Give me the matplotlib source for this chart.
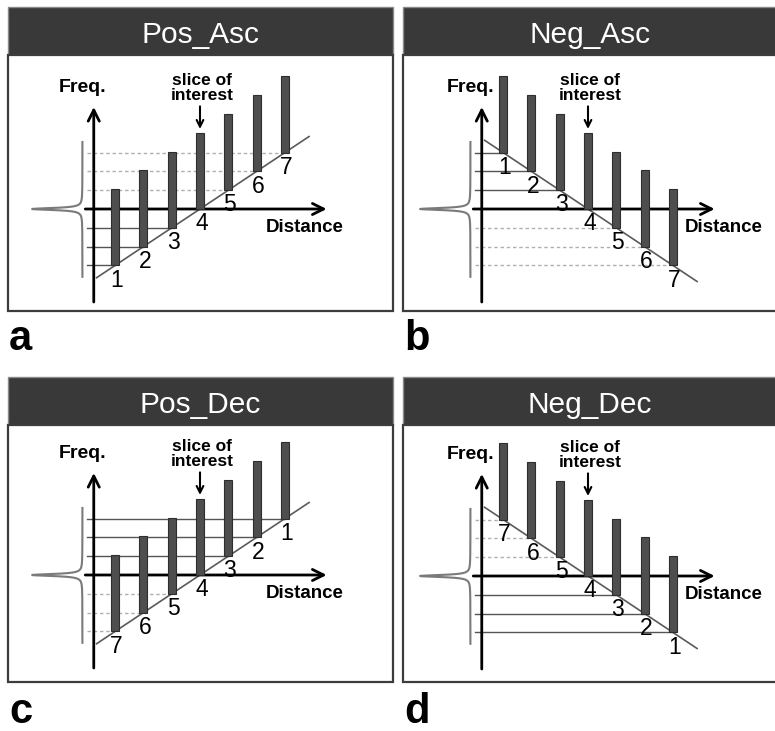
import numpy as np
import matplotlib
matplotlib.use("Agg")
import matplotlib.pyplot as plt
from matplotlib.patches import Rectangle

# ---------------- data ----------------
panel_names = ["Pos_Asc", "Neg_Asc", "Pos_Dec", "Neg_Dec"]
panel_letters = ["a", "b", "c", "d"]
gradient_sign = [1, -1, 1, -1]          # frequency offset per unit distance
slice_positions = [-3, -2, -1, 0, 1, 2, 3]
asc_order = [1, 2, 3, 4, 5, 6, 7]
dec_order = [7, 6, 5, 4, 3, 2, 1]
acquisition_order = [asc_order, asc_order, dec_order, dec_order]
slice_of_interest = 4
slice_bandwidth = 4.05                 # bar length in frequency units

# ---------------- layout (pixels) ----------------
W, H = 775, 731
DX, DY = 28.33, 18.83                  # px per distance unit / freq unit
HEADER_H = 48
# (left, right, top, bottom, origin_x, origin_y, letter baseline)
panel_boxes = [
    (8, 393, 7, 311, 200, 209, 350),
    (403, 777, 7, 311, 588, 209, 350),
    (8, 393, 377, 682, 200, 575, 723),
    (403, 777, 377, 682, 588, 576, 723),
]

FONT = "Liberation Sans"
plt.rcParams["font.family"] = [FONT, "DejaVu Sans"]

fig = plt.figure(figsize=(W / 100, H / 100), dpi=100)
fig.patch.set_facecolor("white")

for name, letter, sign, order, box in zip(panel_names, panel_letters,
                                          gradient_sign, acquisition_order,
                                          panel_boxes):
    x0, x1, y0, y1, ox, oy, base = box
    ax = fig.add_axes([x0 / W, 1 - y1 / H, (x1 - x0) / W, (y1 - y0) / H])
    ax.set_xlim((x0 - ox) / DX, (x1 - ox) / DX)
    ax.set_ylim((oy - y1) / DY, (oy - y0) / DY)
    ax.axis("off")
    hfrac = HEADER_H / (y1 - y0)

    # header and frame
    ax.add_patch(Rectangle((0, 1 - hfrac), 1, hfrac, transform=ax.transAxes,
                           facecolor="#393939", edgecolor="#8a8a8a", lw=1.0,
                           clip_on=False, zorder=1))
    ax.add_patch(Rectangle((0, 0), 1, 1 - hfrac, transform=ax.transAxes,
                           facecolor="white", edgecolor="#3c3c3c", lw=1.6,
                           clip_on=False, zorder=1))
    ax.text(0.5, 1 - 36 / (y1 - y0), name, transform=ax.transAxes,
            ha="center", va="baseline", color="white", fontsize=21.5,
            family=FONT)

    # spectral line (Lorentzian) on the frequency axis
    yy = np.linspace(-3.6, 3.56, 800)
    xx = -4.15 - 1.78 / (1 + (yy / 0.065) ** 2)
    ax.plot(xx, yy, color="#7a7a7a", lw=1.5, zorder=2)

    # horizontal lines from the frequency axis to each slice
    for pos, num in zip(slice_positions, order):
        if num == slice_of_interest:
            continue
        f = sign * pos
        if num < slice_of_interest:
            ax.plot([-4.0, pos], [f, f], color="#555555", lw=1.0, zorder=2)
        else:
            ax.plot([-4.0, pos], [f, f], color="#b0b0b0", lw=1.0,
                    ls=(0, (2.5, 2)), zorder=2)

    # gradient line
    gx = np.array([-3.65, 3.85])
    ax.plot(gx, sign * gx, color="#5a5a5a", lw=1.2, zorder=3)

    # axes arrows
    ax.annotate("", xy=(4.47, 0), xytext=(-4.05, 0),
                arrowprops=dict(arrowstyle="->", lw=2.0, color="black",
                                mutation_scale=20, shrinkA=0, shrinkB=0),
                zorder=4)
    ax.annotate("", xy=(-3.75, 5.42), xytext=(-3.75, -4.94),
                arrowprops=dict(arrowstyle="->", lw=2.0, color="black",
                                mutation_scale=20, shrinkA=0, shrinkB=0),
                zorder=4)

    # slices (bars)
    for pos, num in zip(slice_positions, order):
        f = sign * pos
        ax.bar(pos, slice_bandwidth, bottom=f, width=0.28, color="#4e4e4e",
               edgecolor="#2e2e2e", lw=0.8, zorder=5)
        ax.text(pos + 0.05, f - 0.78, str(num), ha="center", va="center",
                fontsize=16.5, color="black", zorder=6)

    # labels
    ax.text(-4.15, 6.43, "Freq.", ha="center", va="center", fontsize=14,
            fontweight="bold")
    ax.text(0.07, 6.43, "slice of\ninterest", ha="center", va="center",
            fontsize=12.5, fontweight="bold", linespacing=1.05)
    ax.annotate("", xy=(0, 4.25), xytext=(0, 5.45),
                arrowprops=dict(arrowstyle="->", lw=1.5, color="black",
                                mutation_scale=12, shrinkA=0, shrinkB=0))
    dist_x = 3.68 if sign > 0 else 4.78
    ax.text(dist_x, -1.0, "Distance", ha="center", va="center",
            fontsize=13.5, fontweight="bold")

    fig.text((x0 + 1) / W, 1 - base / H, letter, ha="left", va="baseline",
             fontsize=30, fontweight="bold")

fig.savefig("out.png", dpi=100, facecolor="white")
